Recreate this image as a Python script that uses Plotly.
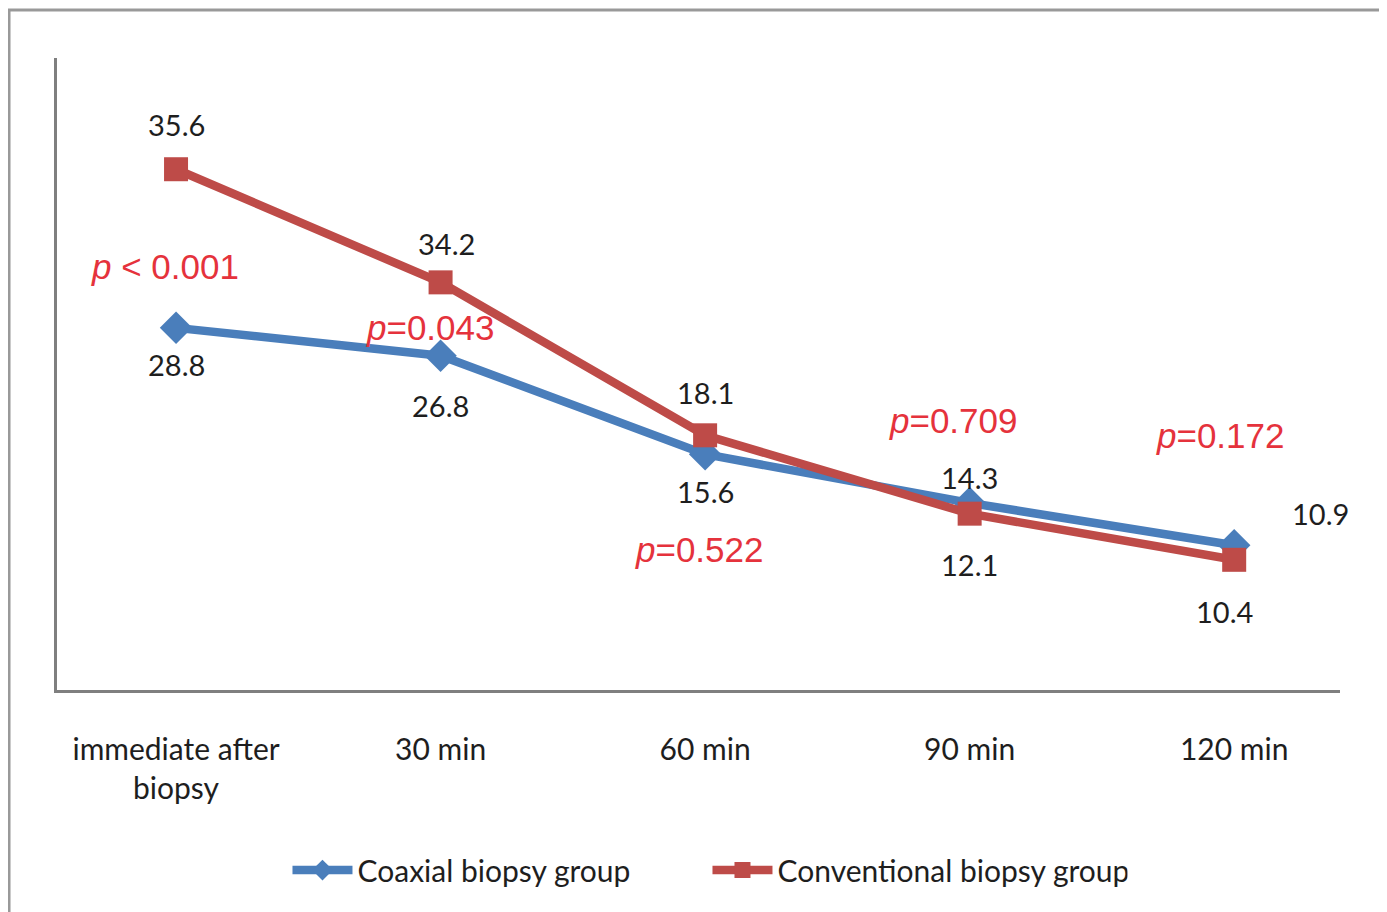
import plotly.graph_objects as go

# ---------------- data ----------------
categories = ["immediate after<br>biopsy", "30 min", "60 min", "90 min", "120 min"]
# vertical position of each point on the (unlabelled) value axis, 0-100 scale
coaxial_level = [57.3, 52.9, 37.3, 29.6, 22.9]
conventional_level = [82.4, 64.5, 40.3, 27.9, 20.6]
# data labels printed next to the points
coaxial_labels = ["28.8", "26.8", "15.6", "14.3", "10.9"]
conventional_labels = ["35.6", "34.2", "18.1", "12.1", "10.4"]
# p-values between groups at each time point
p_values = ["<i>p</i> &lt; 0.001", "<i>p</i>=0.043", "<i>p</i>=0.522", "<i>p</i>=0.709", "<i>p</i>=0.172"]

# ---------------- style ----------------
BLUE = "#4A7EBB"
RED = "#BE4B48"
PRED = "#E5323C"
LABEL_FONT = dict(family="Lato, Carlito, sans-serif", size=29, color="#1e1e1e")
P_FONT = dict(family="Liberation Sans, Arial, sans-serif", size=35, color=PRED)

# pixel offsets of data labels from their point (dx, dy; dy positive = up)
coax_label_shift = [(0, -37), (0, -50), (0, -37), (0, 25), (86, 32)]
conv_label_shift = [(0, 45), (6, 39), (0, 43), (0, -51), (-10, -52)]
# p-value label anchor: (offset from category in category units, y level on value axis)
p_anchor = [(-0.04, 67.0), (-0.04, 57.3), (-0.02, 22.3), (-0.06, 42.6), (-0.05, 40.2)]

xs = list(range(len(categories)))

fig = go.Figure()
fig.add_trace(go.Scatter(
    x=xs, y=coaxial_level, mode="lines+markers", name="Coaxial biopsy group",
    line=dict(color=BLUE, width=8.5),
    marker=dict(symbol="diamond", size=25, color=BLUE),
))
fig.add_trace(go.Scatter(
    x=xs, y=conventional_level, mode="lines+markers", name="Conventional biopsy group",
    line=dict(color=RED, width=8.5),
    marker=dict(symbol="square", size=24, color=RED),
))

annotations = []
for i, (lvl, txt) in enumerate(zip(coaxial_level, coaxial_labels)):
    dx, dy = coax_label_shift[i]
    annotations.append(dict(x=xs[i], y=lvl, text=txt, showarrow=False, font=LABEL_FONT,
                            xshift=dx, yshift=dy, xanchor="center", yanchor="middle"))
for i, (lvl, txt) in enumerate(zip(conventional_level, conventional_labels)):
    dx, dy = conv_label_shift[i]
    annotations.append(dict(x=xs[i], y=lvl, text=txt, showarrow=False, font=LABEL_FONT,
                            xshift=dx, yshift=dy, xanchor="center", yanchor="middle"))
for i, ((ox, py), txt) in enumerate(zip(p_anchor, p_values)):
    annotations.append(dict(x=xs[i] + ox, y=py, text=txt, showarrow=False, font=P_FONT,
                            xanchor="center", yanchor="middle"))

fig.update_layout(
    width=1379, height=904,
    margin=dict(l=49, r=47, t=50, b=222),
    paper_bgcolor="white", plot_bgcolor="white",
    showlegend=True,
    legend=dict(orientation="h", x=0.507, y=-0.285, xanchor="center", yanchor="middle",
                font=dict(family="Lato, Carlito, sans-serif", size=30, color="#1e1e1e"),
                itemwidth=60, entrywidth=345, traceorder="normal"),
    annotations=annotations,
    shapes=[dict(type="rect", xref="paper", yref="paper",
                 x0=-0.0374, x1=1.05, y0=-0.4, y1=1.076,
                 line=dict(color="#999999", width=3), fillcolor="rgba(0,0,0,0)", layer="below")],
)
fig.update_xaxes(
    tickmode="array", tickvals=xs, ticktext=categories,
    range=[-0.45, 4.40], showgrid=False, zeroline=False,
    showline=True, linecolor="#7f7f7f", linewidth=2.5,
    ticks="", ticklabelstandoff=31,
    tickfont=dict(family="Lato, Carlito, sans-serif", size=30, color="#1e1e1e"),
)
fig.update_yaxes(
    range=[0, 100], showgrid=False, zeroline=False, showticklabels=False,
    showline=True, linecolor="#7f7f7f", linewidth=2.5, ticks="",
)

fig.write_html("out.html")
